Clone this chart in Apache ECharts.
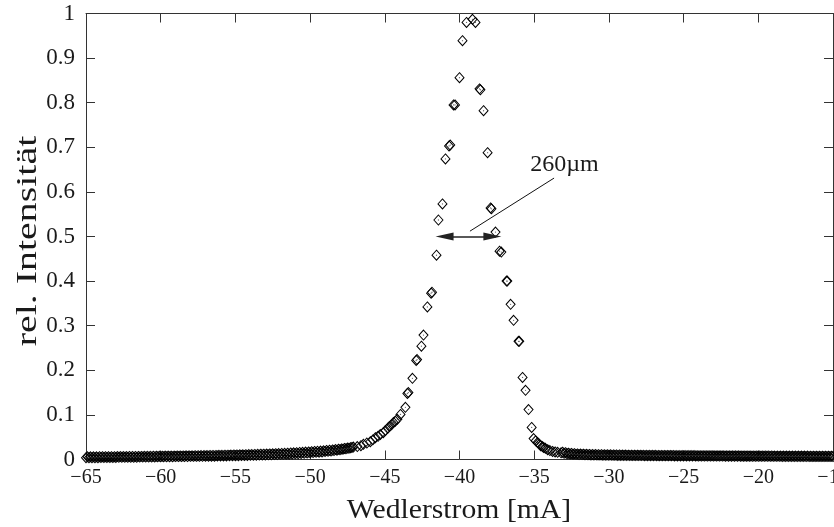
<!DOCTYPE html>
<html><head><meta charset="utf-8">
<script src="https://cdn.jsdelivr.net/npm/echarts@6/dist/echarts.min.js"></script>
<style>html,body{margin:0;background:#fff}#c{width:834px;height:527px}</style>
</head><body><div id="c"></div><script>
// Wedler current scan: relative intensity vs. current [mA], two sweeps
const leftTailX = [-65,-64.8,-64.6,-64.4,-64.2,-64,-63.8,-63.6,-63.4,-63.2,
  -63,-62.8,-62.6,-62.4,-62.2,-62,-61.8,-61.6,-61.4,-61.2,
  -61,-60.8,-60.6,-60.4,-60.2,-60,-59.8,-59.6,-59.4,-59.2,
  -59,-58.8,-58.6,-58.4,-58.2,-58,-57.8,-57.6,-57.4,-57.2,
  -57,-56.8,-56.6,-56.4,-56.2,-56,-55.8,-55.6,-55.4,-55.2,
  -55,-54.8,-54.6,-54.4,-54.2,-54,-53.8,-53.6,-53.4,-53.2,
  -53,-52.8,-52.6,-52.4,-52.2,-52,-51.8,-51.6,-51.4,-51.2,
  -51,-50.8,-50.6,-50.4,-50.2,-50,-49.8,-49.6,-49.4,-49.2,
  -49,-48.8,-48.6,-48.4,-48.2,-48,-47.8,-47.6,-47.4,-47.2];
const leftTailY = [0.004,0.004,0.004,0.004,0.004,0.0045,0.0045,0.0045,0.0045,0.0045,
  0.0045,0.005,0.005,0.005,0.005,0.005,0.005,0.005,0.0055,0.0055,
  0.0055,0.0055,0.0055,0.0055,0.006,0.006,0.006,0.006,0.006,0.006,
  0.0065,0.0065,0.0065,0.0065,0.0065,0.007,0.007,0.007,0.007,0.007,
  0.0075,0.0075,0.0075,0.0075,0.008,0.008,0.008,0.008,0.0085,0.0085,
  0.0085,0.0085,0.009,0.009,0.009,0.0095,0.0095,0.0095,0.01,0.01,
  0.01,0.0105,0.0105,0.011,0.011,0.0115,0.0115,0.012,0.012,0.0125,
  0.013,0.013,0.0135,0.014,0.0145,0.015,0.0155,0.016,0.0165,0.017,
  0.018,0.0185,0.019,0.020,0.021,0.022,0.023,0.024,0.025,0.027];
const leftTail2X = [-64.9,-64.7,-64.5,-64.3,-64.1,-63.9,-63.7,-63.5,-63.3,-63.1,
  -62.9,-62.7,-62.5,-62.3,-62.1,-61.9,-61.7,-61.5,-61.3,-61.1,
  -60.9,-60.7,-60.5,-60.3,-60.1,-59.9,-59.7,-59.5,-59.3,-59.1,
  -58.9,-58.7,-58.5,-58.3,-58.1,-57.9,-57.7,-57.5,-57.3,-57.1,
  -56.9,-56.7,-56.5,-56.3,-56.1,-55.9,-55.7,-55.5,-55.3,-55.1,
  -54.9,-54.7,-54.5,-54.3,-54.1,-53.9,-53.7,-53.5,-53.3,-53.1,
  -52.9,-52.7,-52.5,-52.3,-52.1,-51.9,-51.7,-51.5,-51.3,-51.1,
  -50.9,-50.7,-50.5,-50.3,-50.1,-49.9,-49.7,-49.5,-49.3,-49.1,
  -48.9,-48.7,-48.5,-48.3,-48.1,-47.9,-47.7,-47.5,-47.3,-47.1];
const leftTail2Y = [0.006,0.006,0.006,0.006,0.0062,0.0062,0.0062,0.0064,0.0064,0.0064,
  0.0065,0.0066,0.0066,0.0067,0.0068,0.0068,0.0069,0.007,0.007,0.0071,
  0.0072,0.0072,0.0073,0.0074,0.0075,0.0075,0.0076,0.0077,0.0078,0.0078,
  0.0079,0.008,0.0081,0.0082,0.0083,0.0084,0.0085,0.0086,0.0087,0.0088,
  0.0089,0.009,0.0091,0.0092,0.0094,0.0095,0.0096,0.0098,0.0099,0.0101,
  0.0102,0.0104,0.0106,0.0108,0.011,0.0112,0.0114,0.0116,0.0118,0.012,
  0.0122,0.0125,0.0128,0.013,0.0133,0.0136,0.0139,0.0142,0.0146,0.015,
  0.0154,0.0158,0.0162,0.0166,0.017,0.0175,0.018,0.0185,0.019,0.0196,
  0.0202,0.0208,0.0215,0.0222,0.023,0.0238,0.0247,0.0256,0.0266,0.0278];

const peakX = [-46.84,-46.43,-45.97,-45.63,-45.30,-44.96,-44.69,-44.42,-44.16,-43.95,
  -43.62,-43.49,-43.42,-43.15,-42.90,-42.84,-42.55,-42.41,-42.15,-41.90,
  -41.84,-41.54,-41.41,-41.14,-40.94,-40.70,-40.62,-40.40,-40.30,-40.00,
  -39.80,-39.53,-39.13,-38.93,-38.66,-38.60,-38.39,-38.12,-37.92,-37.86,
  -37.59,-37.32,-37.20,-36.85,-36.80,-36.58,-36.38,-36.05,-36.00,-35.78,
  -35.58,-35.38,-35.17,-35.04,-34.77,-34.57,-34.37,-34.10,-33.77,-33.43];
const peakY = [0.029,0.034,0.040,0.049,0.056,0.065,0.074,0.083,0.090,0.101,
  0.117,0.148,0.150,0.182,0.222,0.224,0.254,0.279,0.342,0.373,
  0.375,0.458,0.537,0.573,0.674,0.703,0.705,0.795,0.795,0.856,
  0.939,0.980,0.987,0.980,0.831,0.829,0.782,0.688,0.564,0.562,
  0.510,0.467,0.465,0.400,0.400,0.348,0.312,0.265,0.265,0.184,
  0.155,0.112,0.072,0.047,0.038,0.031,0.027,0.022,0.018,0.016];
const peak2X = [-46.6,-46.2,-45.8,-45.45,-45.1,-44.8,-44.55,-44.3,
  -34.9,-34.65,-34.45,-34.25,-33.95,-33.6];
const peak2Y = [0.031,0.037,0.044,0.052,0.060,0.070,0.078,0.086,
  0.042,0.034,0.029,0.025,0.020,0.017];

const rightTailX = [-33.2,-33,-32.8,-32.6,-32.4,-32.2,-32,-31.8,-31.6,-31.4,
  -31.2,-31,-30.8,-30.6,-30.4,-30.2,-30,-29.8,-29.6,-29.4,
  -29.2,-29,-28.8,-28.6,-28.4,-28.2,-28,-27.8,-27.6,-27.4,
  -27.2,-27,-26.8,-26.6,-26.4,-26.2,-26,-25.8,-25.6,-25.4,
  -25.2,-25,-24.8,-24.6,-24.4,-24.2,-24,-23.8,-23.6,-23.4,
  -23.2,-23,-22.8,-22.6,-22.4,-22.2,-22,-21.8,-21.6,-21.4,
  -21.2,-21,-20.8,-20.6,-20.4,-20.2,-20,-19.8,-19.6,-19.4,
  -19.2,-19,-18.8,-18.6,-18.4,-18.2,-18,-17.8,-17.6,-17.4,
  -17.2,-17,-16.8,-16.6,-16.4,-16.2,-16,-15.8,-15.6,-15.4,
  -15.2,-15];
const rightTailY = [0.015,0.014,0.013,0.0125,0.012,0.0115,0.011,0.011,0.0105,0.0105,
  0.01,0.01,0.01,0.0098,0.0097,0.0096,0.0095,0.0094,0.0093,0.0092,
  0.0091,0.009,0.009,0.0089,0.0088,0.0088,0.0087,0.0087,0.0086,0.0086,
  0.0085,0.0085,0.0084,0.0084,0.0083,0.0083,0.0082,0.0082,0.0081,0.0081,
  0.008,0.008,0.008,0.0079,0.0079,0.0079,0.0078,0.0078,0.0078,0.0077,
  0.0077,0.0077,0.0076,0.0076,0.0076,0.0075,0.0075,0.0075,0.0074,0.0074,
  0.0074,0.0073,0.0073,0.0073,0.0072,0.0072,0.0072,0.0071,0.0071,0.0071,
  0.007,0.007,0.007,0.007,0.0069,0.0069,0.0069,0.0069,0.0068,0.0068,
  0.0068,0.0068,0.0067,0.0067,0.0067,0.0067,0.0066,0.0066,0.0066,0.0066,
  0.0065,0.0065];
const rightTail2X = [-33.1,-32.9,-32.7,-32.5,-32.3,-32.1,-31.9,-31.7,-31.5,-31.3,
  -31.1,-30.9,-30.7,-30.5,-30.3,-30.1,-29.9,-29.7,-29.5,-29.3,
  -29.1,-28.9,-28.7,-28.5,-28.3,-28.1,-27.9,-27.7,-27.5,-27.3,
  -27.1,-26.9,-26.7,-26.5,-26.3,-26.1,-25.9,-25.7,-25.5,-25.3,
  -25.1,-24.9,-24.7,-24.5,-24.3,-24.1,-23.9,-23.7,-23.5,-23.3,
  -23.1,-22.9,-22.7,-22.5,-22.3,-22.1,-21.9,-21.7,-21.5,-21.3,
  -21.1,-20.9,-20.7,-20.5,-20.3,-20.1,-19.9,-19.7,-19.5,-19.3,
  -19.1,-18.9,-18.7,-18.5,-18.3,-18.1,-17.9,-17.7,-17.5,-17.3,
  -17.1,-16.9,-16.7,-16.5,-16.3,-16.1,-15.9,-15.7,-15.5,-15.3,
  -15.1];
const rightTail2Y = [0.0165,0.0152,0.0142,0.0135,0.013,0.0126,0.0122,0.0119,0.0116,0.0114,
  0.0112,0.011,0.0108,0.0107,0.0106,0.0105,0.0104,0.0103,0.0102,0.0101,
  0.01,0.0099,0.0098,0.0097,0.0097,0.0096,0.0095,0.0095,0.0094,0.0094,
  0.0093,0.0093,0.0092,0.0092,0.0091,0.0091,0.009,0.009,0.0089,0.0089,
  0.0088,0.0088,0.0087,0.0087,0.0087,0.0086,0.0086,0.0086,0.0085,0.0085,
  0.0085,0.0084,0.0084,0.0084,0.0083,0.0083,0.0083,0.0082,0.0082,0.0082,
  0.0081,0.0081,0.0081,0.008,0.008,0.008,0.008,0.0079,0.0079,0.0079,
  0.0079,0.0078,0.0078,0.0078,0.0078,0.0077,0.0077,0.0077,0.0077,0.0076,
  0.0076,0.0076,0.0076,0.0075,0.0075,0.0075,0.0075,0.0074,0.0074,0.0074,
  0.0074];

// FWHM annotation (data coordinates; arrowhead centres sit inside the tips)
const fwhmFrom = [-41.0, 0.5];
const fwhmTo = [-37.8, 0.5];
const leaderFrom = [-39.3, 0.512];
const leaderTo = [-33.67, 0.631];
const fwhmText = '260\u00b5m';
const fwhmTextAt = [-32.97, 0.66];

const xMin = -65, xMax = -15, xStep = 5;
const yMin = 0, yMax = 1, yStep = 0.1;
const xTitle = 'Wedlerstrom [mA]';
const yTitle = 'rel. Intensit\u00e4t';

const zip = (xs, ys) => xs.map((x, i) => [x, ys[i]]);
const points = [].concat(
  zip(leftTailX, leftTailY), zip(leftTail2X, leftTail2Y),
  zip(peakX, peakY), zip(peak2X, peak2Y),
  zip(rightTailX, rightTailY), zip(rightTail2X, rightTail2Y));

const serif = 'Liberation Serif';
const ink = '#1a1a1a';
const axisCol = '#333';

const chart = echarts.init(document.getElementById('c'), null, {renderer: 'canvas'});

function xAxisDef(pos, labels) {
  return {
    type: 'value', position: pos, min: xMin, max: xMax, interval: xStep,
    axisLine: {show: true, onZero: false, lineStyle: {color: axisCol, width: 1}},
    axisTick: {show: true, inside: true, length: 9, lineStyle: {color: axisCol}},
    splitLine: {show: false},
    axisLabel: labels ? {
      show: true, margin: 8, color: ink, fontFamily: serif, fontSize: 20,
      hideOverlap: false,
      formatter: v => String(v).replace('-', '\u2212')
    } : {show: false}
  };
}
function yAxisDef(pos, labels) {
  return {
    type: 'value', position: pos, min: yMin, max: yMax, interval: yStep,
    axisLine: {show: true, onZero: false, lineStyle: {color: axisCol, width: 1}},
    axisTick: {show: true, inside: true, length: 9, lineStyle: {color: axisCol}},
    splitLine: {show: false},
    axisLabel: labels ? {
      show: true, margin: 11, color: ink, fontFamily: serif, fontSize: 23,
      formatter: v => String(v)
    } : {show: false}
  };
}

chart.setOption({
  animation: false,
  backgroundColor: '#fff',
  grid: {left: 86, right: 1, top: 13.5, bottom: 67.5, containLabel: false, outerBoundsMode: 'none'},
  xAxis: [xAxisDef('bottom', true), xAxisDef('top', false)],
  yAxis: [yAxisDef('left', true), yAxisDef('right', false)],
  graphic: [
    {type: 'text', x: 459, y: 511, silent: true, scaleX: 1.1,
      style: {text: xTitle, fill: ink, font: '27px "Liberation Serif"', align: 'center', verticalAlign: 'middle'}},
    {type: 'text', x: 28, y: 241, rotation: Math.PI / 2, silent: true, scaleX: 1.33,
      style: {text: yTitle, fill: ink, font: '30px "Liberation Serif"', align: 'center', verticalAlign: 'middle'}}
  ],
  series: [
    {
      type: 'scatter', xAxisIndex: 0, yAxisIndex: 0,
      data: points, symbol: 'diamond', symbolSize: [9, 10],
      itemStyle: {color: 'rgba(0,0,0,0)', borderColor: '#000', borderWidth: 1, opacity: 1},
      silent: true,
      markLine: {
        silent: true, symbol: ['none', 'none'], animation: false,
        label: {show: false},
        lineStyle: {color: '#111', width: 1, type: 'solid'},
        data: [[{coord: leaderFrom}, {coord: leaderTo}]]
      },
      markPoint: {
        silent: true, symbol: 'circle', symbolSize: 0, animation: false,
        itemStyle: {color: 'rgba(0,0,0,0)'},
        label: {show: true, position: 'inside', formatter: fwhmText,
          color: ink, fontFamily: serif, fontSize: 24},
        data: [{coord: fwhmTextAt}]
      }
    },
    {
      type: 'scatter', xAxisIndex: 0, yAxisIndex: 0,
      data: points, symbol: 'circle', symbolSize: 1.3,
      itemStyle: {color: '#444'}, silent: true,
      markLine: {
        silent: true, symbol: ['triangle', 'triangle'], symbolSize: [8, 18], animation: false,
        label: {show: false},
        lineStyle: {color: '#222', width: 1.6, type: 'solid'},
        data: [[{coord: fwhmFrom}, {coord: fwhmTo}]]
      }
    }
  ]
});
</script></body></html>
